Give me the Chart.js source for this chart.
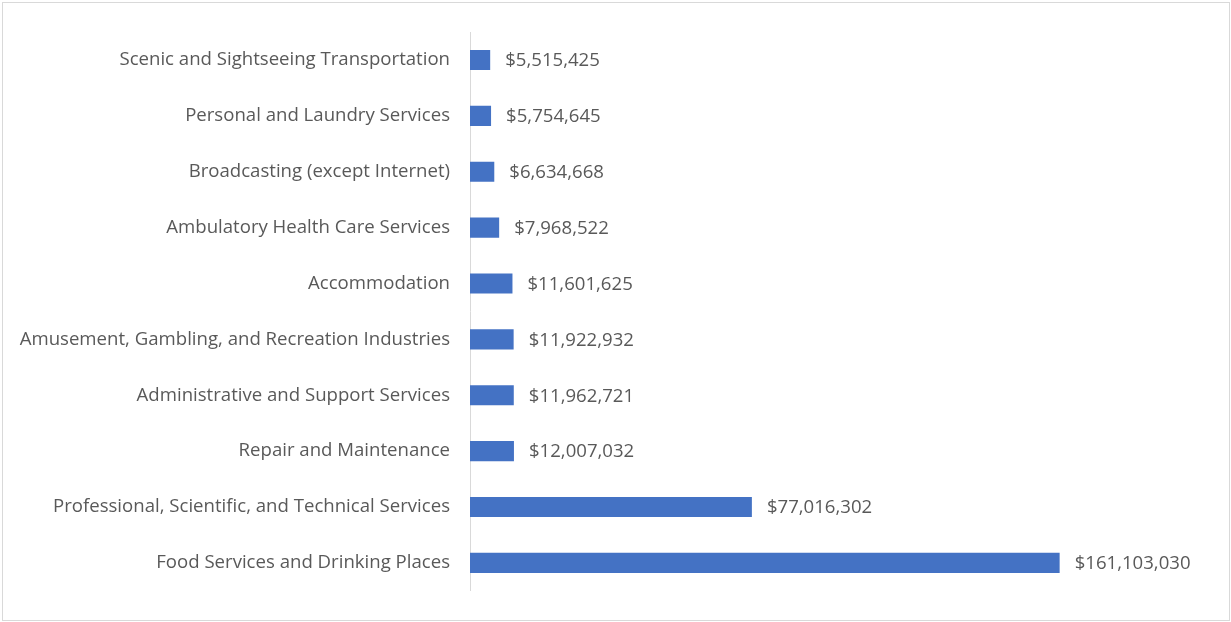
<!DOCTYPE html>
<html>
<head>
<meta charset="utf-8">
<script src="https://cdn.jsdelivr.net/npm/chart.js@4.4.0/dist/chart.umd.min.js"></script>
<style>
  html, body { margin: 0; padding: 0; background: #fff; }
  #frame { position: absolute; left: 2px; top: 2px; width: 1226px; height: 617px; border: 1px solid #d9d9d9; }
  #wrap { position: absolute; left: 0; top: 0; width: 1231px; height: 622px; }
</style>
</head>
<body>
<div id="frame"></div>
<div id="wrap"><canvas id="chart" width="1231" height="622"></canvas></div>
<script>
// ===== Categories (top to bottom) =====
const industries = [
    "Scenic and Sightseeing Transportation",
    "Personal and Laundry Services",
    "Broadcasting (except Internet)",
    "Ambulatory Health Care Services",
    "Accommodation",
    "Amusement, Gambling, and Recreation Industries",
    "Administrative and Support Services",
    "Repair and Maintenance",
    "Professional, Scientific, and Technical Services",
    "Food Services and Drinking Places"
];

// ===== Values =====
const amounts = [5515425, 5754645, 6634668, 7968522, 11601625, 11922932, 11962721, 12007032, 77016302, 161103030];

const axisMax = 200000000;
const textColor = '#595959';
const fontFamily = "'Open Sans', sans-serif";
const fontSize = 18.6;

function money(v) {
    return '$' + v.toLocaleString('en-US');
}

// ===== Value labels at the bar ends =====
const barLabels = {
    id: 'barLabels',
    afterDatasetsDraw(chart) {
        const ctx = chart.ctx;
        const meta = chart.getDatasetMeta(0);
        ctx.save();
        ctx.font = fontSize + 'px ' + fontFamily;
        ctx.fillStyle = textColor;
        ctx.textAlign = 'left';
        ctx.textBaseline = 'middle';
        meta.data.forEach((bar, i) => {
            ctx.fillText(money(amounts[i]), bar.x + 15, bar.y + 1);
        });
        ctx.restore();
    }
};

new Chart(document.getElementById('chart'), {
    type: 'bar',
    data: {
        labels: industries,
        datasets: [{
            data: amounts,
            backgroundColor: '#4472c4',
            categoryPercentage: 1,
            barPercentage: 0.36
        }]
    },
    options: {
        indexAxis: 'y',
        responsive: false,
        animation: false,
        layout: { padding: { top: 32, bottom: 27, right: 29, left: 0 } },
        scales: {
            x: {
                display: false,
                min: 0,
                max: axisMax
            },
            y: {
                afterFit(scale) { scale.width = 470; },
                grid: { display: false, drawTicks: false },
                border: { display: true, color: '#d9d9d9', width: 1 },
                ticks: {
                    color: textColor,
                    padding: 20,
                    font: { size: fontSize, family: fontFamily }
                }
            }
        },
        plugins: {
            legend: { display: false },
            tooltip: { enabled: false }
        }
    },
    plugins: [barLabels]
});
</script>
</body>
</html>
